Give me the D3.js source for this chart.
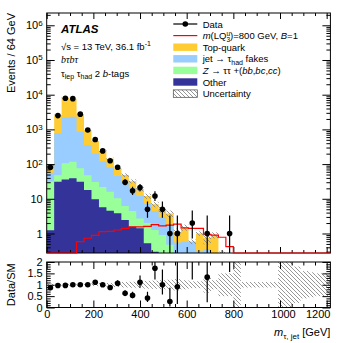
<!DOCTYPE html>
<html><head><meta charset="utf-8">
<script src="https://cdn.jsdelivr.net/npm/d3@7"></script>
<style>
body{margin:0;background:#fff;}
svg{display:block;font-family:"Liberation Sans",Arial,Helvetica,sans-serif;}
</style></head><body>
<svg id="c" width="357" height="343"></svg>
<script>
// ---------------- data ----------------
const binWidth = 32;            // GeV
const nBins = 38;               // 0 .. 1216 GeV
const dataCounts = [81, 2500, 7900, 7700, 2750, 960, 510, 240, 125, 81,
  30, 17, 21, 5, 12, 5, 1, 1, 0, 2,
  0, 1, 0, 0, 1, 0, 0, 0, 0, 0,
  0, 0, 0, 0, 0, 0, 0, 0];
const other = [1.25, 31, 36, 39, 31, 18, 9.7, 5.7, 4.5, 3.8,
  2.45, 1.57, 1.41, 0.52, 0.30, 0.15, 0.10, 0.05, 0.03, 0.02,
  0.02, 0.01, 0.01, 0.01, 0.005, 0.004, 0.004, 0.003, 0.003, 0.003,
  0.002, 0.002, 0.002, 0.002, 0.002, 0.001, 0.001, 0.001];
const zttHF = [30, 17, 69, 78, 45, 30, 21, 16, 11.5, 6.5,
  3.75, 2.9, 1.3, 1.5, 0.96, 0.75, 0.37, 0.15, 0.10, 0.06,
  0.05, 0.04, 0.03, 0.02, 0.01, 0.008, 0.008, 0.006, 0.006, 0.005,
  0.005, 0.004, 0.004, 0.003, 0.003, 0.002, 0.002, 0.002];
const fakes = [25, 722, 2095, 2183, 784, 302, 169, 100, 64, 35,
  24, 15.5, 9.3, 5, 3.2, 2.1, 1.3, 0.35, 0.45, 0.5,
  0.25, 0.3, 0.2, 0.1, 0.05, 0.03, 0.03, 0.03, 0.025, 0.02,
  0.02, 0.015, 0.015, 0.01, 0.01, 0.01, 0.008, 0.008];
const topQuark = [37, 1810, 5940, 5400, 1890, 610, 260, 118, 62, 31,
  18, 12, 7, 5, 2.5, 2.0, 2.0, 0.55, 0.92, 0,
  0.68, 0.4, 0.66, 0.07, 0.045, 0.04, 0.03, 0.03, 0.02, 0.02,
  0.02, 0.015, 0.015, 0.01, 0.01, 0.01, 0.008, 0.008];
const signal800 = [0.001, 0.001, 0.01, 0.05, 0.58, 0.73, 0.88, 1.13, 1.15, 1.26,
  1.41, 1.55, 1.55, 1.6, 1.8, 1.65, 1.75, 1.85, 1.45, 1.4,
  1.4, 0.95, 0.9, 0.78, 0.42, 0.2, 0.15, 0.1, 0.08, 0.06,
  0.05, 0.04, 0.03, 0.02, 0.02, 0.01, 0.01, 0.01];
const relUnc = [0.05, 0.04, 0.04, 0.04, 0.04, 0.05, 0.06, 0.07, 0.08, 0.10,
  0.12, 0.13, 0.15, 0.17, 0.18, 0.2, 0.22, 0.25, 0.2, 0.15,
  0.15, 0.35, 0.2, 0.5, 0.5, 1.2, 0.12, 0.12, 0.12, 0.12,
  0.12, 1.2, 1.2, 0.8, 0.6, 0.55, 0.5, 0.5];
const xMajorTicks = [0, 200, 400, 600, 800, 1000, 1200];
const yMajorTicks = [1, 10, 100, 1e3, 1e4, 1e5, 1e6];
const ratioTicks = [0, 0.5, 1, 1.5, 2];
const colors = {top:"#ffcc33", fakes:"#99ccff", ztt:"#99ff99", other:"#333399", sig:"#ff0000"};

// ---------------- layout ----------------
const svg = d3.select("#c");
const L = 46.7, Rt = 330.4, T = 13, B = 253, RT = 262, RB = 307.5;
const xMax = binWidth * nBins;
const x = d3.scaleLinear().domain([0, xMax]).range([L, Rt]);
const y = d3.scaleLog().domain([0.274, 2.26e6]).range([B, T]).clamp(true);
const yr = d3.scaleLinear().domain([0, 2]).range([RB, RT]);
const edges = d3.range(nBins + 1).map(i => i * binWidth);

const defs = svg.append("defs");
const pat = defs.append("pattern").attr("id","hatch").attr("patternUnits","userSpaceOnUse")
  .attr("width",4).attr("height",4);
pat.append("path").attr("d","M-1,-1 L5,5 M-1,3 L1,5 M3,-1 L5,1")
  .attr("stroke","#8a8a8a").attr("stroke-width",0.9);
defs.append("clipPath").attr("id","clipMain").append("rect")
  .attr("x",L).attr("y",T).attr("width",Rt-L).attr("height",B-T);
defs.append("clipPath").attr("id","clipRatio").append("rect")
  .attr("x",L).attr("y",RT).attr("width",Rt-L).attr("height",RB-RT);

// cumulative stacks
const c1 = other.slice();
const c2 = c1.map((v,i)=>v+zttHF[i]);
const c3 = c2.map((v,i)=>v+fakes[i]);
const c4 = c3.map((v,i)=>v+topQuark[i]);

function stepPts(vals){
  const p=[]; vals.forEach((v,i)=>{p.push([edges[i],v]);p.push([edges[i+1],v]);}); return p;
}
const area = d3.area().x(d=>x(d[0])).y0(B).y1(d=>y(Math.max(d[1],1e-6)));
const gMain = svg.append("g").attr("clip-path","url(#clipMain)");
[[c4,colors.top],[c3,colors.fakes],[c2,colors.ztt],[c1,colors.other]].forEach(([vals,col])=>{
  gMain.append("path").attr("d",area(stepPts(vals))).attr("fill",col).attr("stroke","none");
});
// uncertainty band main
gMain.selectAll("rect.unc").data(c4).join("rect").attr("class","unc")
  .attr("x",(d,i)=>x(edges[i])).attr("width",(d,i)=>x(edges[i+1])-x(edges[i]))
  .attr("y",(d,i)=>y(d*(1+relUnc[i])))
  .attr("height",(d,i)=>y(Math.max(d*(1-relUnc[i]),1e-6))-y(d*(1+relUnc[i])))
  .attr("fill","url(#hatch)");

// Poisson (Garwood, Wilson-Hilferty approx) intervals
function pLow(n){ if(n<=0) return 0; const a=1-1/(9*n)-1/(3*Math.sqrt(n)); return n*a*a*a; }
function pHigh(n){ const m=n+1; const a=1-1/(9*m)+1/(3*Math.sqrt(m)); return m*a*a*a; }

// axes helpers
function minorLog(){ const out=[]; for(let e=-1;e<=6;e++){ for(let k=2;k<=9;k++){ const v=k*Math.pow(10,e); if(v>=0.274&&v<=2.26e6) out.push(v);} } return out; }
const xMinor = d3.range(0, xMax+1, 50).filter(v=>v%200!==0);
const rMinor = d3.range(0, 2.001, 0.1).map(v=>+v.toFixed(2)).filter(v=>Math.abs(v*2-Math.round(v*2))>1e-6);

function styleAxis(g){ g.select(".domain").remove(); g.selectAll("line").attr("stroke","#000").attr("stroke-width",1); g.selectAll("text").attr("font-size",11).attr("fill","#000").attr("font-family","Liberation Sans, Arial, sans-serif"); }

// main panel axes
svg.append("g").attr("transform",`translate(${L},0)`).call(d3.axisLeft(y).tickValues(yMajorTicks).tickSize(-8).tickPadding(4)
  .tickFormat(d=>"")).call(styleAxis)
  .selectAll(".tick text").each(function(d){
    const t=d3.select(this); const e=Math.round(Math.log10(d));
    if(e===0){t.text("1");} else if(e===1){t.text("10");}
    else {t.text("10"); t.append("tspan").attr("dy","-0.45em").attr("font-size",8).text(e);}
  });
svg.append("g").attr("transform",`translate(${L},0)`).call(d3.axisLeft(y).tickValues(minorLog()).tickSize(-4).tickFormat("")).call(styleAxis);
svg.append("g").attr("transform",`translate(${Rt},0)`).call(d3.axisRight(y).tickValues(yMajorTicks).tickSize(-8).tickFormat("")).call(styleAxis);
svg.append("g").attr("transform",`translate(${Rt},0)`).call(d3.axisRight(y).tickValues(minorLog()).tickSize(-4).tickFormat("")).call(styleAxis);
svg.append("g").attr("transform",`translate(0,${B})`).call(d3.axisBottom(x).tickValues(xMajorTicks).tickSize(-6).tickFormat("")).call(styleAxis);
svg.append("g").attr("transform",`translate(0,${B})`).call(d3.axisBottom(x).tickValues(xMinor).tickSize(-3).tickFormat("")).call(styleAxis);
svg.append("g").attr("transform",`translate(0,${T})`).call(d3.axisTop(x).tickValues(xMajorTicks).tickSize(-6).tickFormat("")).call(styleAxis);
svg.append("g").attr("transform",`translate(0,${T})`).call(d3.axisTop(x).tickValues(xMinor).tickSize(-3).tickFormat("")).call(styleAxis);
svg.append("rect").attr("x",L).attr("y",T).attr("width",Rt-L).attr("height",B-T).attr("fill","none").attr("stroke","#000").attr("stroke-width",1);

// signal line
const line = d3.line().x(d=>x(d[0])).y(d=>y(Math.max(d[1],1e-6)));
svg.append("path").attr("d",line(stepPts(signal800))).attr("fill","none").attr("stroke",colors.sig).attr("stroke-width",1.2);

// data points main
const gData = svg.append("g").attr("clip-path","url(#clipMain)");
dataCounts.forEach((n,i)=>{
  if(n<=0) return;
  const cx = x((edges[i]+edges[i+1])/2);
  gData.append("line").attr("x1",cx).attr("x2",cx).attr("y1",y(Math.max(pLow(n),1e-6))).attr("y2",y(pHigh(n)))
    .attr("stroke","#000").attr("stroke-width",1.2);
  gData.append("circle").attr("cx",cx).attr("cy",y(n)).attr("r",2.8).attr("fill","#000");
});

// ratio panel
const gR = svg.append("g").attr("clip-path","url(#clipRatio)");
gR.selectAll("rect.runc").data(relUnc).join("rect").attr("class","runc")
  .attr("x",(d,i)=>x(edges[i])).attr("width",(d,i)=>x(edges[i+1])-x(edges[i]))
  .attr("y",d=>yr(1+d)).attr("height",d=>yr(1-d)-yr(1+d)).attr("fill","url(#hatch)");
dataCounts.forEach((n,i)=>{
  if(n<=0) return;
  const p=c4[i]; const cx = x((edges[i]+edges[i+1])/2);
  const r=n/p, lo=pLow(n)/p, hi=pHigh(n)/p;
  gR.append("line").attr("x1",cx).attr("x2",cx).attr("y1",yr(lo)).attr("y2",yr(hi)).attr("stroke","#000").attr("stroke-width",1.2);
  if(r<=2) gR.append("circle").attr("cx",cx).attr("cy",yr(r)).attr("r",2.8).attr("fill","#000");
});
svg.append("g").attr("transform",`translate(${L},0)`).call(d3.axisLeft(yr).tickValues(ratioTicks).tickSize(-8).tickPadding(4).tickFormat(d=>d===0?"0":String(d))).call(styleAxis);
svg.append("g").attr("transform",`translate(${L},0)`).call(d3.axisLeft(yr).tickValues(rMinor).tickSize(-4).tickFormat("")).call(styleAxis);
svg.append("g").attr("transform",`translate(${Rt},0)`).call(d3.axisRight(yr).tickValues(ratioTicks).tickSize(-8).tickFormat("")).call(styleAxis);
svg.append("g").attr("transform",`translate(${Rt},0)`).call(d3.axisRight(yr).tickValues(rMinor).tickSize(-4).tickFormat("")).call(styleAxis);
svg.append("g").attr("transform",`translate(0,${RB})`).call(d3.axisBottom(x).tickValues(xMajorTicks).tickSize(-7).tickPadding(3).tickFormat(d=>String(d))).call(styleAxis)
  .selectAll(".tick text").attr("dx",d=>d===1200?-9:(d===1000?3:0));
svg.append("g").attr("transform",`translate(0,${RB})`).call(d3.axisBottom(x).tickValues(xMinor).tickSize(-3.5).tickFormat("")).call(styleAxis);
svg.append("g").attr("transform",`translate(0,${RT})`).call(d3.axisTop(x).tickValues(xMajorTicks).tickSize(-7).tickFormat("")).call(styleAxis);
svg.append("g").attr("transform",`translate(0,${RT})`).call(d3.axisTop(x).tickValues(xMinor).tickSize(-3.5).tickFormat("")).call(styleAxis);
svg.append("rect").attr("x",L).attr("y",RT).attr("width",Rt-L).attr("height",RB-RT).attr("fill","none").attr("stroke","#000").attr("stroke-width",1);

// axis titles
svg.append("text").attr("transform",`translate(15,${T}) rotate(-90)`).attr("text-anchor","end").attr("font-size",11).text("Events / 64 GeV");
svg.append("text").attr("transform",`translate(15,${(RT+RB)/2}) rotate(-90)`).attr("text-anchor","middle").attr("font-size",11).text("Data/SM");
const xt = svg.append("text").attr("x",Rt).attr("y",336).attr("text-anchor","end").attr("font-size",11);
xt.append("tspan").attr("font-style","italic").text("m");
xt.append("tspan").attr("dy",3).attr("font-size",8).text("τ, jet");
xt.append("tspan").attr("dy",-3).text(" [GeV]");

// labels top-left
svg.append("text").attr("x",61).attr("y",33.3).attr("font-size",11.5).attr("font-weight","bold").attr("font-style","italic").text("ATLAS");
const t2 = svg.append("text").attr("x",61).attr("y",50).attr("font-size",9.5);
t2.append("tspan").text("√s = 13 TeV, 36.1 fb");
t2.append("tspan").attr("dy",-4).attr("font-size",7).text("-1");
svg.append("text").attr("x",61).attr("y",63).attr("font-size",10).attr("font-style","italic").attr("font-family","Liberation Serif, serif").text("bτbτ");
const t4 = svg.append("text").attr("x",61).attr("y",76.5).attr("font-size",9.5);
t4.append("tspan").text("τ");
t4.append("tspan").attr("dy",2.5).attr("font-size",7).text("lep");
t4.append("tspan").attr("dy",-2.5).text(" τ");
t4.append("tspan").attr("dy",2.5).attr("font-size",7).text("had");
t4.append("tspan").attr("dy",-2.5).text(" 2 ");
t4.append("tspan").attr("font-style","italic").text("b");
t4.append("tspan").text("-tags");

// legend
const lx0 = 173.3, lx1 = 197.3, ltx = 202.7;
const lb = [27.6, 39.2, 50.8, 62.4, 74, 85.6, 97.2];
const lg = svg.append("g");
lg.append("line").attr("x1",lx0).attr("x2",lx1).attr("y1",lb[0]-3.6).attr("y2",lb[0]-3.6).attr("stroke","#000").attr("stroke-width",1.2);
lg.append("circle").attr("cx",(lx0+lx1)/2).attr("cy",lb[0]-3.6).attr("r",2.8).attr("fill","#000");
lg.append("text").attr("x",ltx).attr("y",lb[0]).attr("font-size",9.5).text("Data");
lg.append("line").attr("x1",lx0).attr("x2",lx1).attr("y1",lb[1]-3.6).attr("y2",lb[1]-3.6).attr("stroke",colors.sig).attr("stroke-width",1.2);
const s1 = lg.append("text").attr("x",ltx).attr("y",lb[1]).attr("font-size",9.5);
s1.append("tspan").attr("font-style","italic").text("m");
s1.append("tspan").text("(LQ");
s1.append("tspan").attr("dy",-3.5).attr("font-size",6.5).text("u");
s1.append("tspan").attr("dx",-3.6).attr("dy",6).attr("font-size",6.5).text("3");
s1.append("tspan").attr("dy",-2.5).text(")=800 GeV, ");
s1.append("tspan").attr("font-style","italic").text("B");
s1.append("tspan").text("=1");
[[colors.top,"Top-quark"],[colors.fakes,null],[colors.ztt,null],[colors.other,"Other"]].forEach(([c,txt],k)=>{
  const yb = lb[2+k];
  lg.append("rect").attr("x",lx0).attr("y",yb-7.3).attr("width",lx1-lx0).attr("height",7.4).attr("fill",c);
  if(txt) lg.append("text").attr("x",ltx).attr("y",yb).attr("font-size",9.5).text(txt);
});
const s3 = lg.append("text").attr("x",ltx).attr("y",lb[3]).attr("font-size",9.5);
s3.append("tspan").text("jet → τ");
s3.append("tspan").attr("dy",2.5).attr("font-size",7).text("had");
s3.append("tspan").attr("dy",-2.5).text(" fakes");
const s4 = lg.append("text").attr("x",ltx).attr("y",lb[4]).attr("font-size",9.5);
s4.append("tspan").attr("font-style","italic").text("Z");
s4.append("tspan").text(" → ττ +(");
s4.append("tspan").attr("font-style","italic").text("bb");
s4.append("tspan").text(",");
s4.append("tspan").attr("font-style","italic").text("bc");
s4.append("tspan").text(",");
s4.append("tspan").attr("font-style","italic").text("cc");
s4.append("tspan").text(")");
lg.append("rect").attr("x",lx0).attr("y",lb[6]-7.3).attr("width",lx1-lx0).attr("height",7.4).attr("fill","url(#hatch)").attr("stroke","#444").attr("stroke-width",0.7);
lg.append("text").attr("x",ltx).attr("y",lb[6]).attr("font-size",9.5).text("Uncertainty");
</script>
</body></html>
